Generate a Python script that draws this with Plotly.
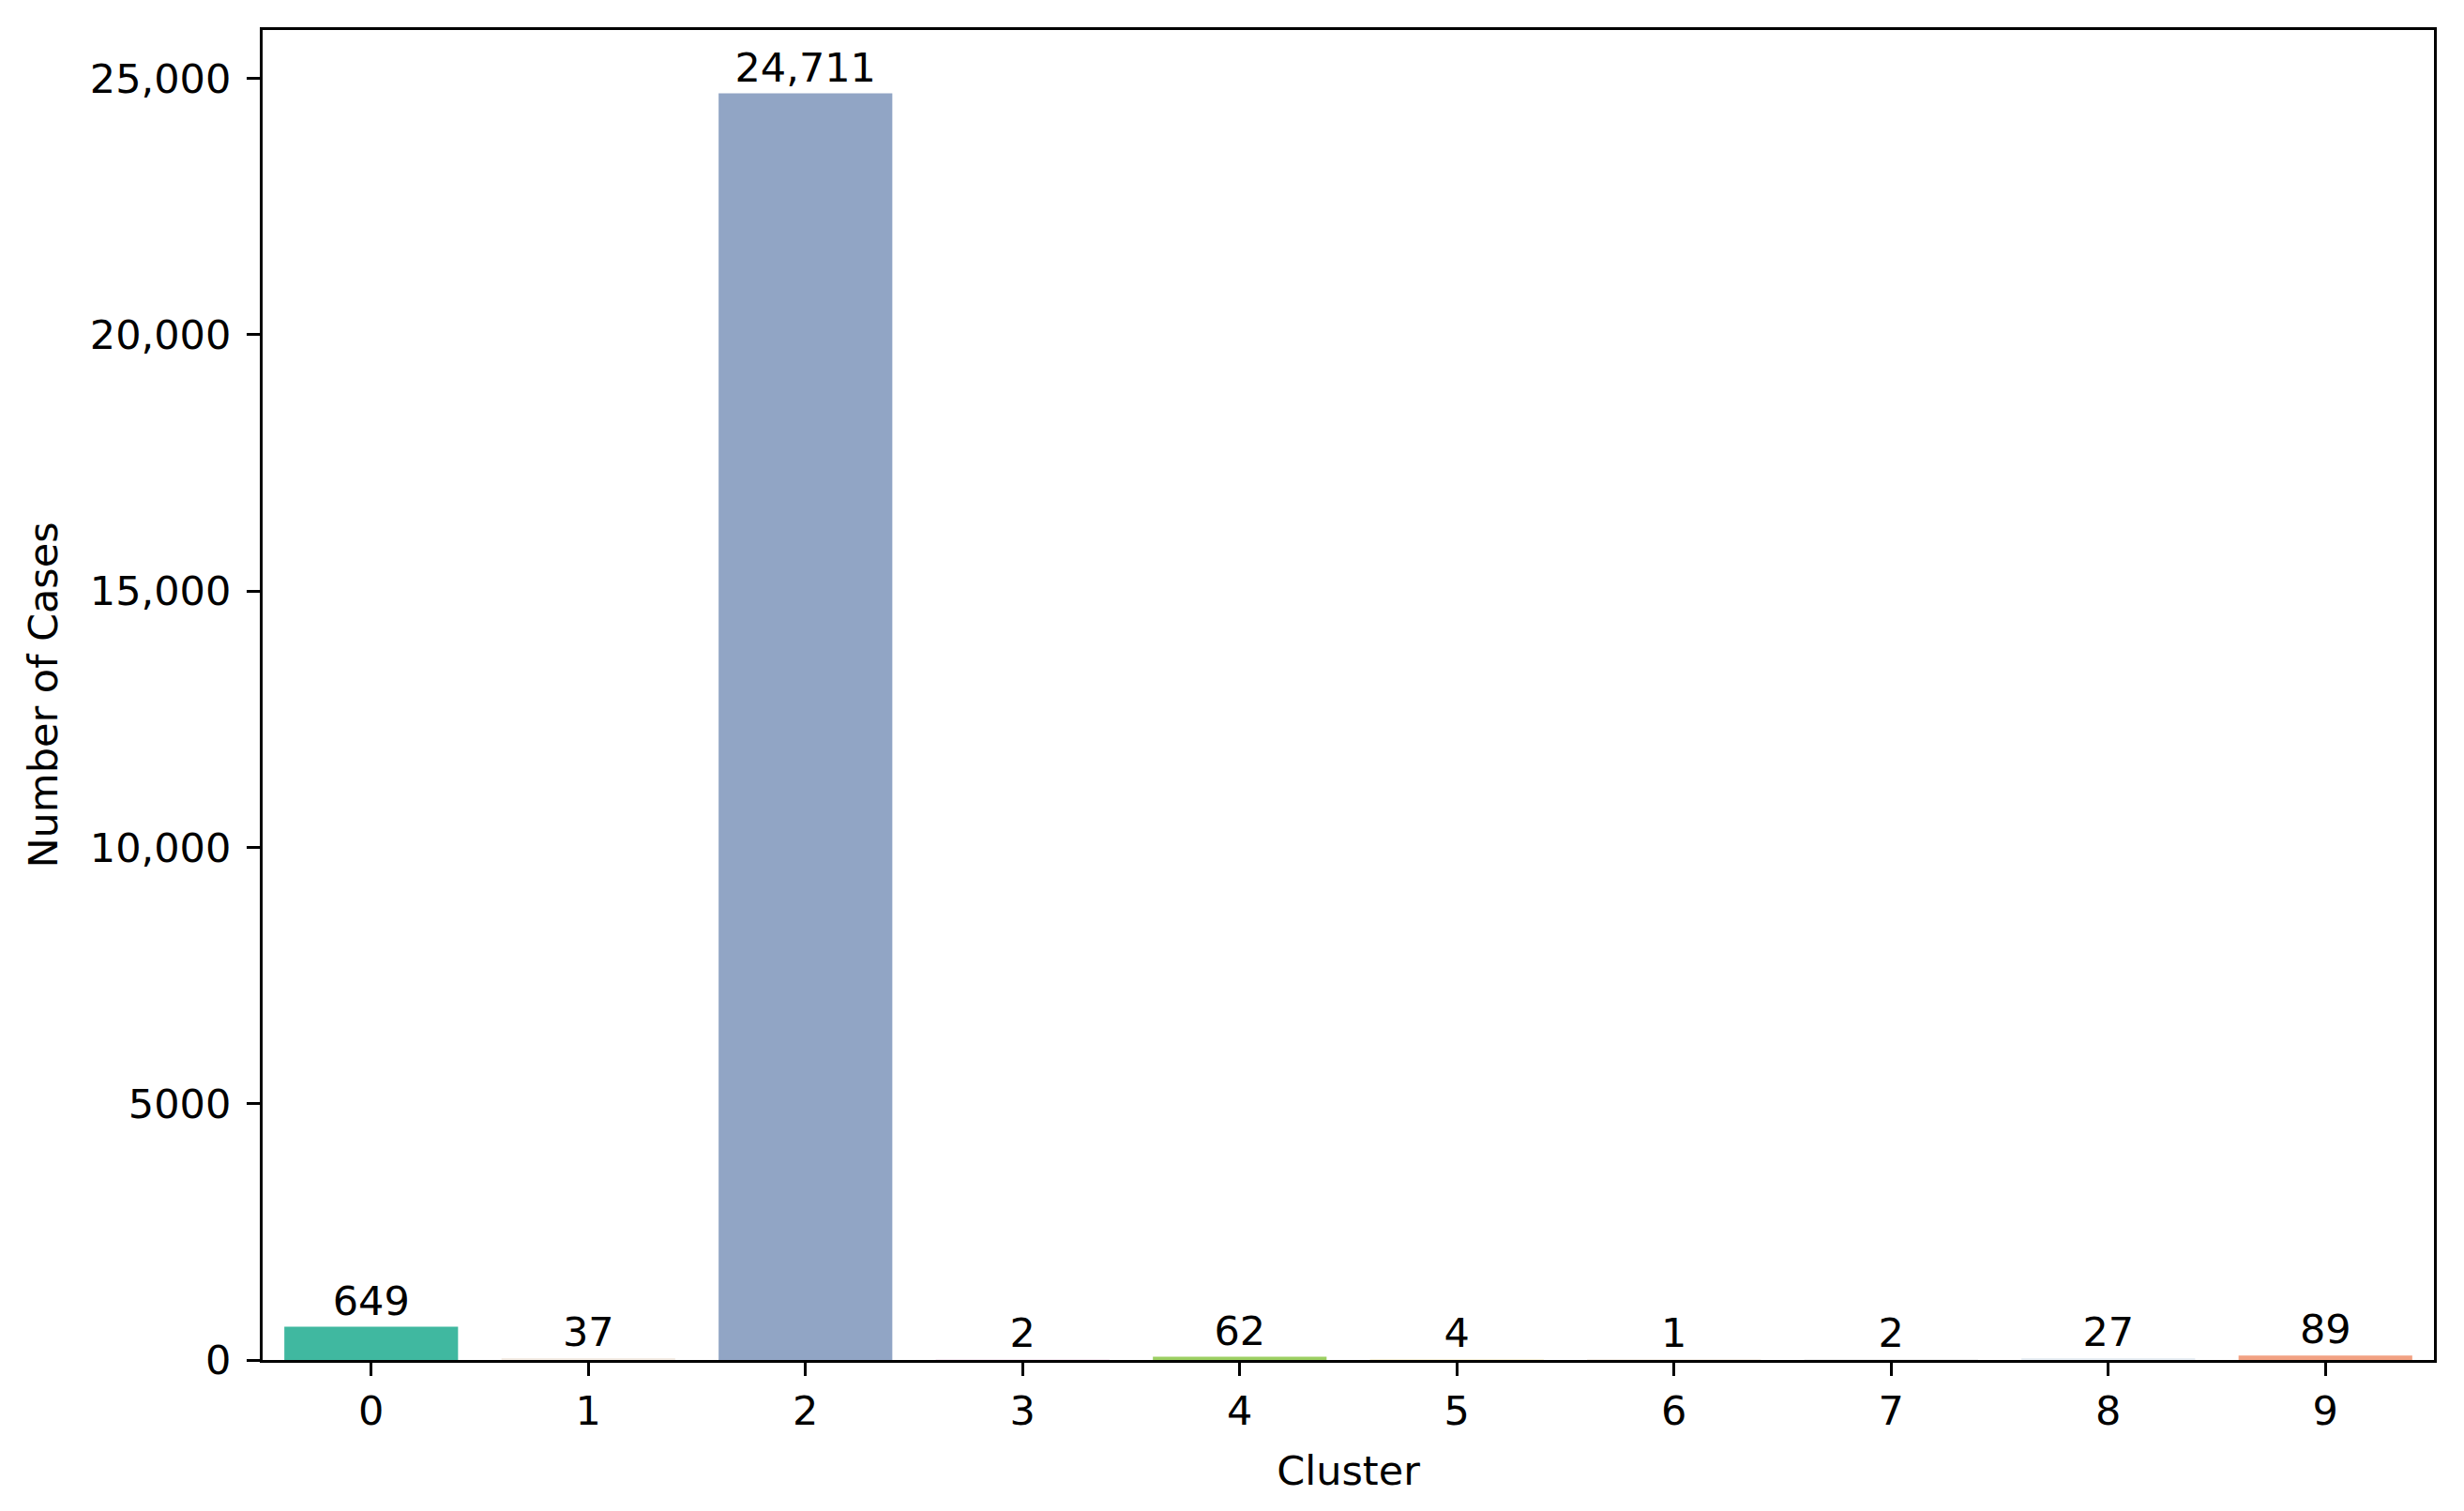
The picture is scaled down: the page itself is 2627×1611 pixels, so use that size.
import plotly.graph_objects as go

clusters = ["0", "1", "2", "3", "4", "5", "6", "7", "8", "9"]
cases = [649, 37, 24711, 2, 62, 4, 1, 2, 27, 89]
bar_colors = ["#40b8a0", "#f4ece4", "#91a5c5", "#f4e8f0", "#9ccf62",
              "#f6f0d8", "#f2ece4", "#eeeeee", "#e8eef4", "#f2a283"]
y_tickvals = [0, 5000, 10000, 15000, 20000, 25000]
y_ticktext = ["0", "5000", "10,000", "15,000", "20,000", "25,000"]
labels = [f"{v:,}" for v in cases]

FONT = "DejaVu Sans"
FS = 43

fig = go.Figure(go.Bar(
    x=list(range(len(clusters))), y=cases,
    marker=dict(color=bar_colors, line=dict(width=0)),
    width=0.8,
    text=labels, textposition="outside",
    textfont=dict(family=FONT, size=FS, color="black"),
    cliponaxis=False,
))

axis_common = dict(
    showline=True, linecolor="black", linewidth=3.2, mirror=True,
    ticks="outside", ticklen=14, tickwidth=3.2, tickcolor="black",
    showgrid=False, zeroline=False,
    tickfont=dict(family=FONT, size=FS, color="black"),
    title_font=dict(family=FONT, size=FS, color="black"),
)

fig.update_layout(
    width=2627, height=1611,
    margin=dict(l=272, r=40, t=24, b=169),
    plot_bgcolor="white", paper_bgcolor="white",
    showlegend=False,
    uniformtext=dict(minsize=FS, mode="show"),
    xaxis=dict(
        range=[-0.5, 9.5], tickvals=list(range(len(clusters))), ticktext=clusters,
        title=dict(text="Cluster", standoff=26), **axis_common,
    ),
    yaxis=dict(
        range=[0, 24711 * 1.05], tickvals=y_tickvals, ticktext=y_ticktext,
        title=dict(text="Number of Cases", standoff=21), ticklabelstandoff=8,
        **axis_common,
    ),
)

fig.write_html("out.html")
